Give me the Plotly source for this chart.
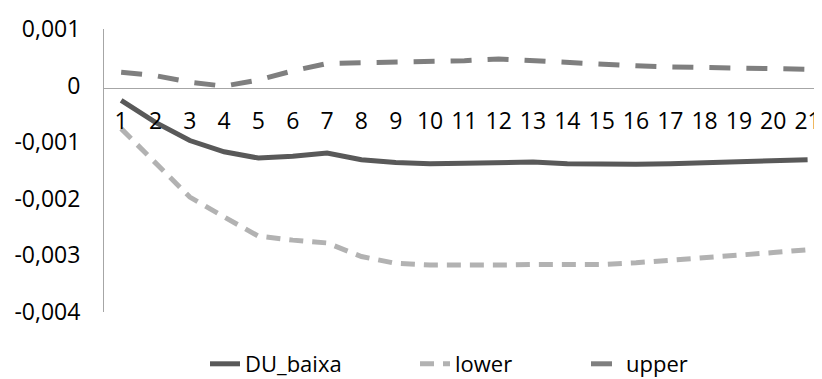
import plotly.graph_objects as go

periods = list(range(1, 22))
du_baixa = [-0.00026, -0.00065, -0.00097, -0.00117, -0.00128, -0.00125, -0.00119, -0.00131,
            -0.00136, -0.00138, -0.00137, -0.00135, -0.00135, -0.00138, -0.00139, -0.00139,
            -0.00138, -0.00136, -0.00134, -0.00133, -0.00131]
lower = [-0.00076, -0.00138, -0.00197, -0.00232, -0.00266, -0.00273, -0.00278, -0.00302,
         -0.00314, -0.00317, -0.00318, -0.00317, -0.00316, -0.00316, -0.00316, -0.00313,
         -0.00309, -0.00305, -0.00301, -0.00295, -0.00290]
upper = [0.000235, 0.000176, 0.00006, -0.00001, 0.0001, 0.00026, 0.00039, 0.0004,
         0.00041, 0.00042, 0.00044, 0.00047, 0.00044, 0.00039, 0.00037, 0.00035,
         0.00033, 0.00032, 0.00031, 0.00029, 0.00029]
y_ticks = [0.001, 0, -0.001, -0.002, -0.003, -0.004]
y_tick_labels = ["0,001", "0", "-0,001", "-0,002", "-0,003", "-0,004"]

# page has an 8px body margin, so the figure is drawn 8px in from the top-left
OFF = 8
W, H = 822 - OFF, 379 - OFF
mt, mb, ml, mr = 28.5 - OFF, 67, 104 - OFF, 0
ymin, ymax = -0.004, 0.001
dom_h = H - mt - mb
zero_pos = (mb + (0 - ymin) / (ymax - ymin) * dom_h) / H  # paper fraction for zero line

font = dict(family="Open Sans", size=23, color="#000000")
leg_font = dict(family="Open Sans", size=22, color="#000000")
leg_y = 1 - (364 - OFF) / H


def leg(text_start):
    return dict(orientation="h", x=(text_start - 38 - OFF - 2) / W, xanchor="left", xref="container",
                y=leg_y, yanchor="middle", yref="container", font=leg_font,
                bgcolor="rgba(0,0,0,0)", borderwidth=0, tracegroupgap=0)


fig = go.Figure()
fig.add_trace(go.Scatter(x=periods, y=du_baixa, name="DU_baixa", mode="lines", legend="legend",
                         line=dict(color="#595959", width=5)))
fig.add_trace(go.Scatter(x=periods, y=lower, name="lower", mode="lines", legend="legend2",
                         line=dict(color="#b2b2b2", width=5, dash="14px,9px")))
fig.add_trace(go.Scatter(x=periods, y=upper, name="upper", mode="lines", legend="legend3",
                         line=dict(color="#7f7f7f", width=5, dash="21px,16px")))

fig.update_layout(
    width=W, height=H,
    margin=dict(l=ml, r=mr, t=mt, b=mb, autoexpand=False),
    paper_bgcolor="white", plot_bgcolor="white",
    font=font,
    showlegend=True,
    legend=leg(245),
    legend2=leg(455),
    legend3=leg(626),
    xaxis=dict(
        range=[0.5, 21.42],
        tickmode="array", tickvals=periods, ticktext=[str(p) for p in periods],
        anchor="free", position=zero_pos,
        showline=True, linecolor="#a6a6a6", linewidth=1,
        showgrid=False, zeroline=False, ticks="",
        tickfont=font, ticklabelstandoff=13, ticklabeloverflow="allow",
        automargin=False,
    ),
    yaxis=dict(
        range=[ymin, ymax],
        tickmode="array", tickvals=y_ticks, ticktext=y_tick_labels,
        showline=True, linecolor="#a6a6a6", linewidth=1,
        showgrid=False, zeroline=False, ticks="",
        tickfont=font, ticklabelstandoff=18, automargin=False,
    ),
)

fig.write_html("out.html")
